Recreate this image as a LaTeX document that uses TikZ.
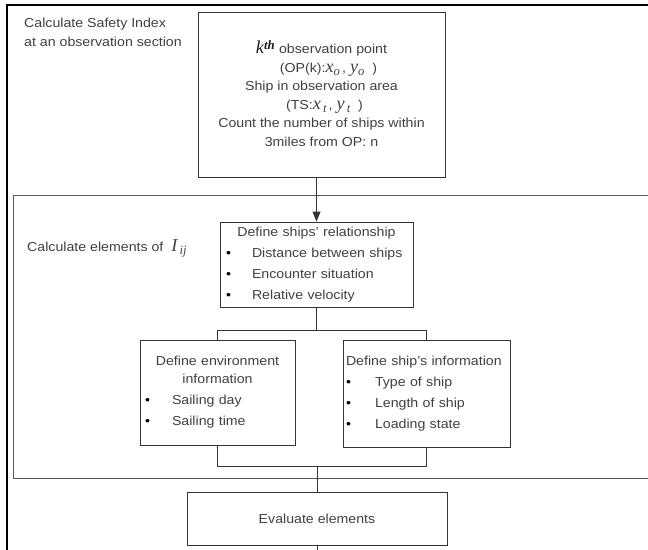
\documentclass[tikz,border=0pt]{standalone}
\usepackage{fontspec}
\setmainfont{Liberation Sans}[FakeStretch=1.09]
\newfontfamily\varfont{Liberation Serif}[Scale=1.4]
\usepackage{tikz}
\usetikzlibrary{arrows.meta}

% italic serif variables as in the original
\newcommand{\var}[1]{{\varfont\itshape #1}}
\newcommand{\sub}[1]{\raisebox{-3pt}{\fontsize{9}{9}\selectfont\var{#1}}}
\newcommand{\bul}[2][26pt]{\makebox[#1][l]{\textcolor{black}{\textbullet}}#2}

\begin{document}
\begin{tikzpicture}[x=1pt,y=-1pt]
\tikzstyle{box}=[draw=black!80,line width=0.8pt,rectangle,inner sep=0pt,text=black!75];
\tikzstyle{txt}=[inner sep=0pt,text=black!75,align=left];
\tikzstyle{link}=[draw=black!80,line width=0.8pt];
\useasboundingbox (0,0) rectangle (648,549);
\clip (0,0) rectangle (648,549);

% frames
\draw[line width=2pt] (7,5) rectangle (670,600);
\draw[draw=black!65,line width=0.8pt] (13,195) rectangle (670,478);

% labels
\node[txt,anchor=north west,font=\fontsize{13}{19}\selectfont] (lblsafety) at (24,18)
  {Calculate Safety Index\\at an observation section};
\node[txt,anchor=base west,font=\fontsize{13}{19}\selectfont] (lblelem) at (27,251)
  {Calculate elements of\ \ \var{I}\,\sub{ij}};

% boxes
\node[box,minimum width=247pt,minimum height=165pt,align=center,
  font=\fontsize{13}{18.5}\selectfont] (obs) at (321.5,94.5)
  {\mbox{}\\[-7pt]
   \textcolor{black!90}{\var{k}\textsuperscript{\bfseries\var{th}}} observation point\\
   \hspace{14pt}(OP(k):\var{x}\sub{o}\,, \var{y}\sub{o}\ \ )\\
   Ship in observation area\\
   \hspace{6pt}(TS:\var{x}\,\sub{t}\,, \var{y}\,\sub{t}\ \ )\\
   Count the number of ships within\\
   3miles from OP: n};
\node[box,minimum width=193pt,minimum height=85pt,text width=181pt,align=left,
  font=\fontsize{13}{21}\selectfont] (rel) at (316.5,264.5)
  {\makebox[\linewidth]{Define ships' relationship}\\
   \bul{Distance between ships}\\
   \bul{Encounter situation}\\
   \bul{Relative velocity}};
\node[box,minimum width=155pt,minimum height=105pt,text width=145pt,align=left,
  font=\fontsize{13}{21}\selectfont] (env) at (217.5,392.5)
  {\makebox[\linewidth]{Define environment}\\[-3pt]
   \makebox[\linewidth]{information}\\
   \bul[27pt]{Sailing day}\\
   \bul[27pt]{Sailing time}};
\node[box,minimum width=167pt,minimum height=107pt,text width=161pt,align=left,
  font=\fontsize{13}{21}\selectfont] (ship) at (426.5,393.5)
  {Define ship's information\\
   \bul[29pt]{Type of ship}\\
   \bul[29pt]{Length of ship}\\
   \bul[29pt]{Loading state}};
\node[box,minimum width=260pt,minimum height=53pt,font=\fontsize{13}{19}\selectfont] (eval) at (317,518.5)
  {Evaluate elements};

% connectors
\draw[link,-{Triangle[length=10pt,width=8pt]}] (rel.north |- obs.south) -- (rel.north);
\draw[link] (rel.south) -- ++(0,23) coordinate (split);
\draw[link] (env.north) |- (split) -| (ship.north);
\path (eval.north) ++(0,-25) coordinate (join);
\draw[link] (env.south) |- (join) -| (ship.south);
\draw[link] (join) -- (eval.north);
\draw[link] (eval.south) -- ++(0,10);
\end{tikzpicture}
\end{document}
